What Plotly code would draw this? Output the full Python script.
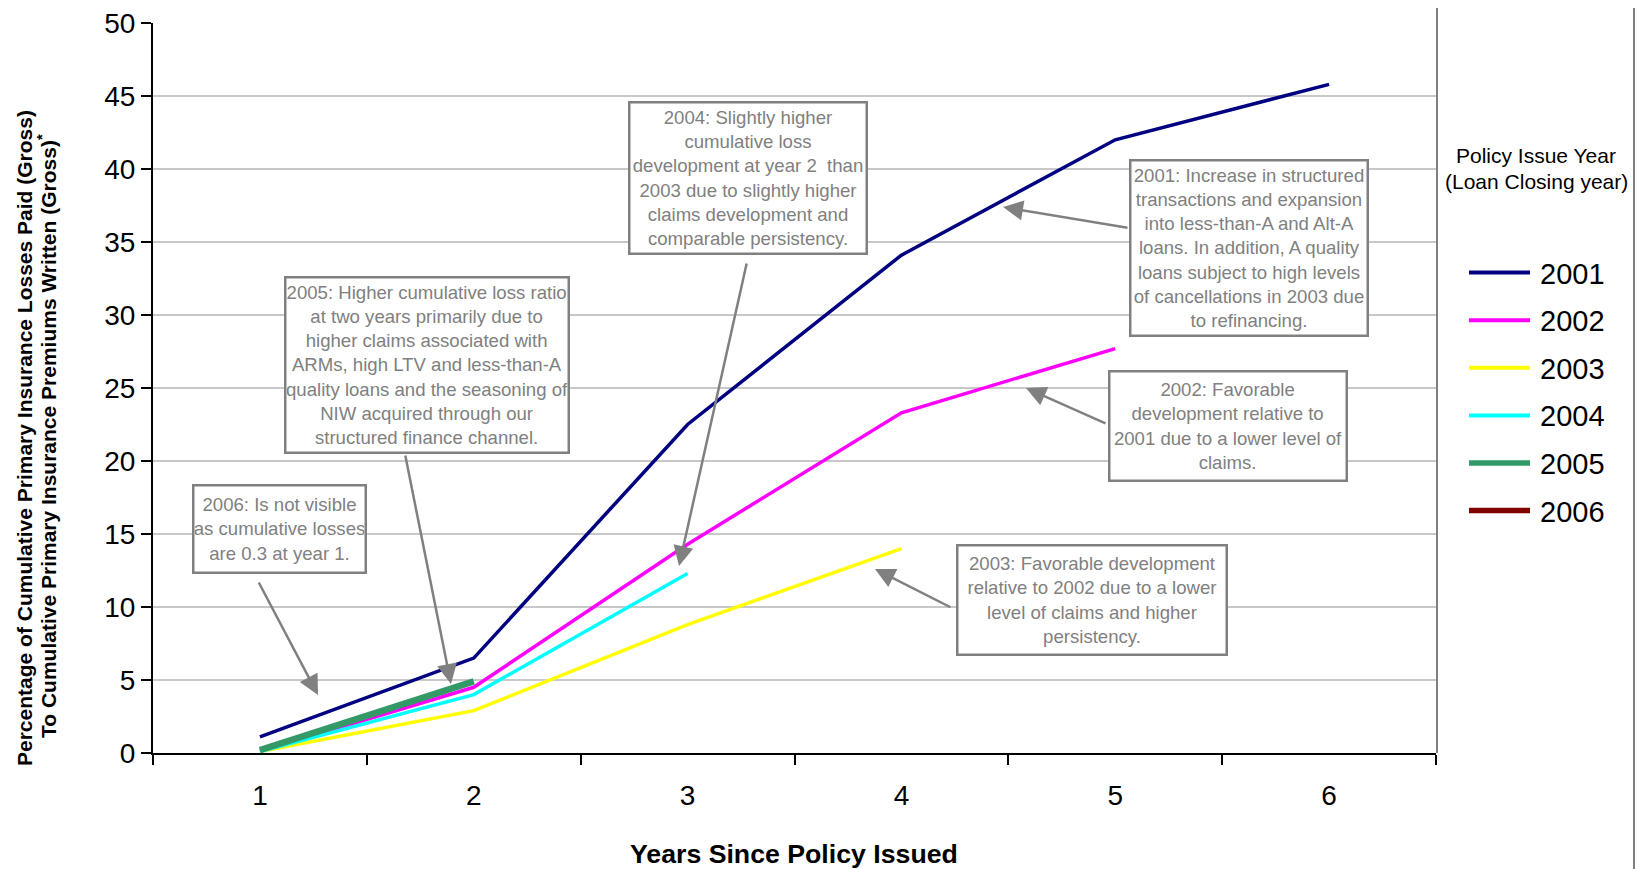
import plotly.graph_objects as go

# ---------------- data ----------------
categories = ["1", "2", "3", "4", "5", "6"]
series_names = ["2001", "2002", "2003", "2004", "2005", "2006"]
s2001 = [1.1, 6.5, 22.5, 34.1, 42.0, 45.8]
s2002 = [0.1, 4.5, 14.3, 23.3, 27.7]
s2003 = [0.1, 2.9, 8.8, 14.0]
s2004 = [0.1, 4.0, 12.3]
s2005 = [0.2, 4.9]
s2006 = [0.3]
series_values = [s2001, s2002, s2003, s2004, s2005, s2006]
series_colors = ["#000080", "#FF00FF", "#FFFF00", "#00FFFF", "#339966", "#800000"]
series_widths = [3.5, 3.5, 3.5, 3.5, 6.5, 6.5]

# annotation texts
notes = [
    "2006: Is not visible<br>as cumulative losses<br>are 0.3 at year 1.",
    "2005: Higher cumulative loss ratio<br>at two years primarily due to<br>higher claims associated with<br>ARMs, high LTV and less-than-A<br>quality loans and the seasoning of<br>NIW acquired through our<br>structured finance channel.",
    "2004: Slightly higher<br>cumulative loss<br>development at year 2  than<br>2003 due to slightly higher<br>claims development and<br>comparable persistency.",
    "2001: Increase in structured<br>transactions and expansion<br>into less-than-A and Alt-A<br>loans. In addition, A quality<br>loans subject to high levels<br>of cancellations in 2003 due<br>to refinancing.",
    "2002: Favorable<br>development relative to<br>2001 due to a lower level of<br>claims.",
    "2003: Favorable development<br>relative to 2002 due to a lower<br>level of claims and higher<br>persistency.",
]

# ---------------- layout geometry (screen pixels) ----------------
SW, SH = 1644, 869          # screen size
OFF = 8                     # page body margin
W, H = SW - OFF, SH - OFF   # figure size
L, R, T, B = 153, 1436, 23, 753   # plot area on screen
PW, PH = R - L, B - T
FONT = "Liberation Sans, Arial, sans-serif"
GRAY = "#808080"


def xp(p):
    return (p - L) / PW


def yp(p):
    return (B - p) / PH


def xd(p):  # screen pixel -> category index
    return (p - L) / (PW / 6) - 0.5


def yd(p):  # screen pixel -> y value
    return (B - p) / PH * 50


fig = go.Figure()
for name, vals, col, w in zip(series_names, series_values, series_colors, series_widths):
    fig.add_trace(go.Scatter(
        x=categories[:len(vals)], y=vals, mode="lines", name=name,
        line=dict(color=col, width=w), showlegend=False,
    ))

annotations = []
shapes = []

# note boxes: (cx, cy, w, h) in screen pixels
boxes = [
    (279.5, 529, 175, 90),
    (427, 365, 286, 178),
    (748, 178, 240, 154),
    (1249, 248, 240, 178),
    (1228, 426, 240, 112),
    (1092, 600, 272, 112),
]
for txt, (cx, cy, bw, bh) in zip(notes, boxes):
    annotations.append(dict(
        x=xd(cx), y=yd(cy), xref="x", yref="y", text=txt, showarrow=False,
        font=dict(family=FONT, size=18.6, color="#808080"), align="center",
        bgcolor="white", bordercolor=GRAY, borderwidth=2.5, borderpad=0,
        width=bw - 5, height=bh - 5, xanchor="center", yanchor="middle",
    ))

# arrows: (tail_x, tail_y, head_x, head_y) in screen pixels
arrows = [
    (258, 581, 318, 695),
    (405, 454, 451, 684),
    (747, 262, 679, 566),
    (1129, 228, 1003, 207),
    (1107, 424, 1026, 388),
    (952, 608, 875, 569),
]
for tx, ty, hx, hy in arrows:
    annotations.append(dict(
        x=xd(hx), y=yd(hy), ax=xd(tx), ay=yd(ty), xref="x", yref="y",
        axref="x", ayref="y", text="", showarrow=True, arrowhead=2,
        arrowsize=1.6, arrowwidth=2.5, arrowcolor=GRAY, standoff=0,
        startstandoff=0,
    ))

# y-axis title (two lines)
annotations.append(dict(
    x=xp(24), y=yp(438), xref="paper", yref="paper", textangle=-90,
    text="<b>Percentage of Cumulative Primary Insurance Losses Paid (Gross)</b>",
    showarrow=False, font=dict(family=FONT, size=21, color="black"),
    xanchor="center", yanchor="middle",
))
annotations.append(dict(
    x=xp(47), y=yp(436), xref="paper", yref="paper", textangle=-90,
    text="<b>To Cumulative Primary Insurance Premiums Written (Gross)<sup>*</sup></b>",
    showarrow=False, font=dict(family=FONT, size=21, color="black"),
    xanchor="center", yanchor="middle",
))
# x-axis title
annotations.append(dict(
    x=xp(794), y=yp(854), xref="paper", yref="paper",
    text="<b>Years Since Policy Issued</b>", showarrow=False,
    font=dict(family=FONT, size=26.7, color="black"), xanchor="center", yanchor="middle",
))

# legend (manual)
annotations.append(dict(x=xp(1536), y=yp(156), xref="paper", yref="paper",
                        text="Policy Issue Year", showarrow=False,
                        font=dict(family=FONT, size=21, color="black"),
                        xanchor="center", yanchor="middle"))
annotations.append(dict(x=xp(1536), y=yp(181), xref="paper", yref="paper",
                        text="(Loan Closing year)", showarrow=False,
                        font=dict(family=FONT, size=21, color="black"),
                        xanchor="center", yanchor="middle"))
for i, (name, col) in enumerate(zip(series_names, series_colors)):
    ly = 272.6 + i * 47.6
    shapes.append(dict(type="line", xref="paper", yref="paper",
                       x0=xp(1469), x1=xp(1530), y0=yp(ly), y1=yp(ly),
                       line=dict(color=col, width=4 if i < 4 else 5.5)))
    annotations.append(dict(x=xp(1538), y=yp(ly + 1), xref="paper", yref="paper",
                            text=name, showarrow=False,
                            font=dict(family=FONT, size=29, color="black"),
                            xanchor="left", yanchor="middle"))

# plot-area right border and chart right border
shapes.append(dict(type="line", xref="paper", yref="paper",
                   x0=xp(1437), x1=xp(1437), y0=yp(0), y1=yp(B),
                   line=dict(color=GRAY, width=2)))
shapes.append(dict(type="line", xref="paper", yref="paper",
                   x0=xp(1634), x1=xp(1634), y0=yp(0), y1=yp(SH),
                   line=dict(color=GRAY, width=2)))

fig.update_layout(
    width=W, height=H, autosize=False,
    margin=dict(l=L - OFF, r=W - (R - OFF), t=T - OFF, b=H - (B - OFF), pad=0,
                autoexpand=False),
    paper_bgcolor="white", plot_bgcolor="white",
    font=dict(family=FONT, color="black"),
    showlegend=False,
    annotations=annotations, shapes=shapes,
    xaxis=dict(
        type="category", categoryorder="array", categoryarray=categories,
        range=[-0.5, 5.5], tickson="boundaries", ticks="outside", ticklen=10,
        tickwidth=1.5, tickcolor="black", showline=True, linecolor="black",
        linewidth=2, showgrid=False, zeroline=False, automargin=False,
        tickfont=dict(family=FONT, size=28, color="black"),
        ticklabelstandoff=16,
    ),
    yaxis=dict(
        range=[0, 50], dtick=5, tick0=0, ticks="outside", ticklen=10,
        tickwidth=1.5, tickcolor="black", showline=True, linecolor="black",
        linewidth=2, showgrid=True, gridcolor="#c8c8c8", gridwidth=2,
        zeroline=False, automargin=False,
        tickfont=dict(family=FONT, size=28, color="black"),
        ticklabelstandoff=0, ticklabeloverflow="allow",
    ),
)

fig.write_html("out.html")
